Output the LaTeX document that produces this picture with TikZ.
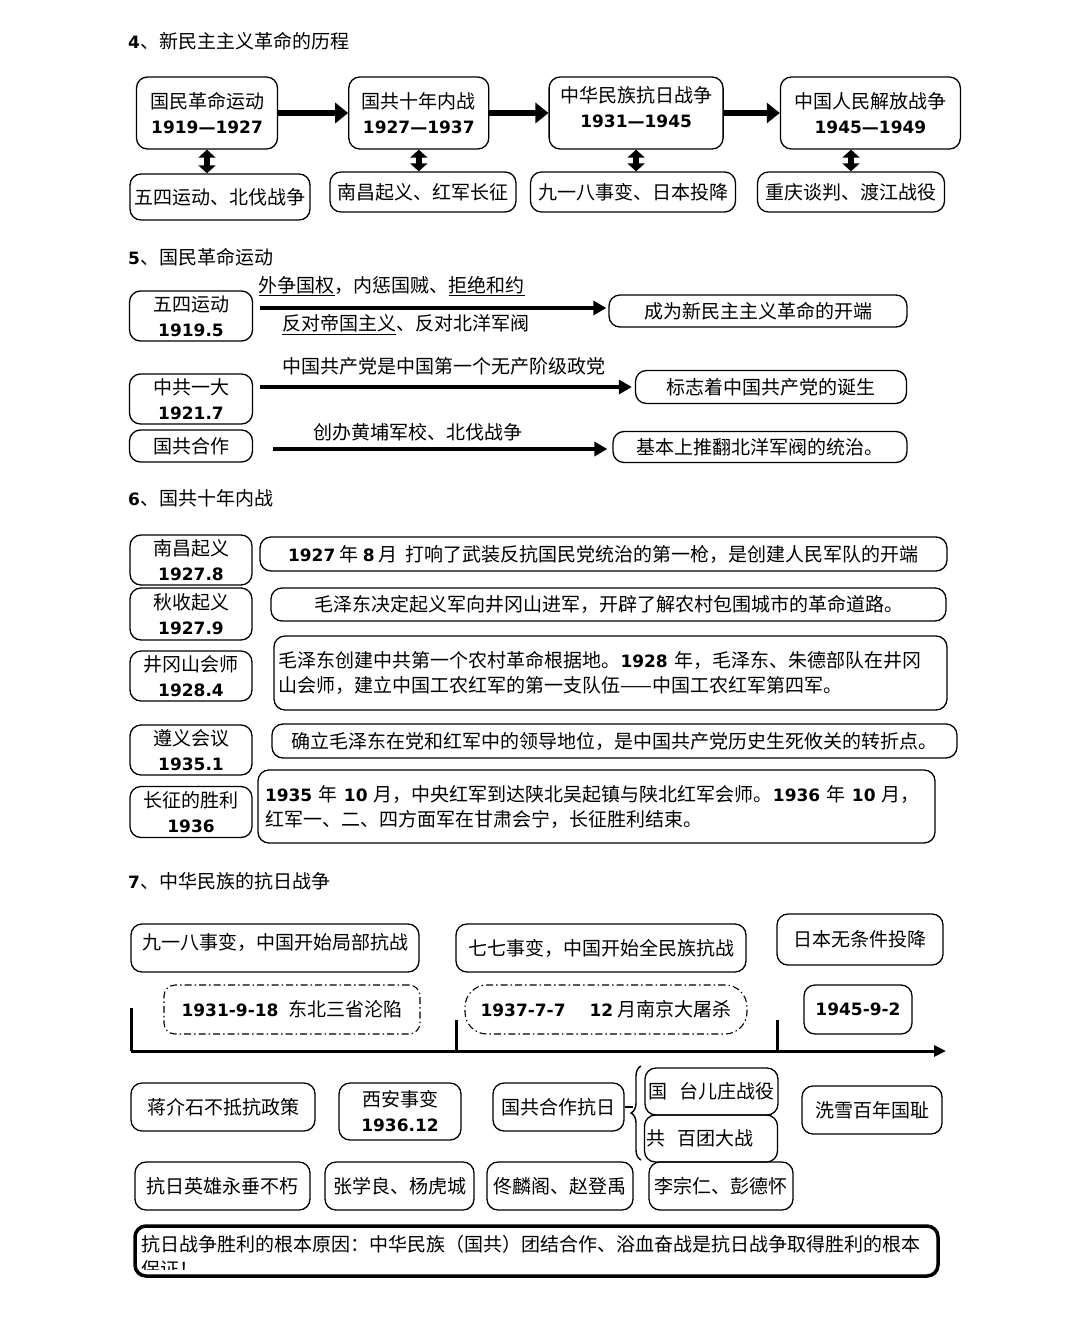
\documentclass[tikz,border=0pt]{standalone}
\usepackage{fontspec}
\setmainfont{Noto Sans CJK SC}
\newfontfamily\numfont{DejaVu Sans}
\usepackage{tikz}
\usetikzlibrary{arrows.meta,positioning,decorations.pathreplacing}
\newcommand{\cnsize}{\fontsize{19}{25}\selectfont}
\newcommand{\yr}[1]{{\numfont\bfseries\fontsize{17}{25}\selectfont #1}}

\begin{document}
\begin{tikzpicture}[x=1pt,y=-1pt,
  box/.style={draw, rounded corners=11pt, line width=1.3pt, align=center, inner sep=2pt, font=\cnsize},
  sz/.style 2 args={minimum width=#1pt, minimum height=#2pt},
  ddbox/.style={box, line width=1.1pt, dash pattern=on 7pt off 3pt on 1.5pt off 3pt},
  title/.style={anchor=west, inner sep=0pt, font=\cnsize},
  lbl/.style={inner sep=0pt, font=\cnsize},
  bigarr/.style={line width=5.5pt, -{Triangle[length=13pt,width=20pt]}},
  dblarr/.style={line width=6pt, {Triangle[length=8pt,width=17pt]}-{Triangle[length=8pt,width=17pt]}},
  arr/.style={line width=3.5pt, -{Triangle[length=13pt,width=14pt]}},
  axis/.style={line width=3pt}
]
\fill[white] (0,0) rectangle (1080,1330);
\useasboundingbox (0,0) rectangle (1080,1330);

% 4
\node[title] (t4) at (128,41) {\yr{4}、新民主主义革命的历程};
\node[box, sz={141}{72}] (natrev) at (207,113) {国民革命运动\\\yr{1919—1927}};
\node[box, sz={140}{72}, right=70pt of natrev] (civwar) {国共十年内战\\\yr{1927—1937}};
\node[box, sz={174}{72}, right=59pt of civwar] (antijp) {中华民族抗日战争\\\yr{1931—1945}\\[-13pt]};
\node[box, sz={180}{72}, right=56pt of antijp] (libwar) {中国人民解放战争\\\yr{1945—1949}};
\node[box, sz={180}{46}] (natev) at (220,197) {五四运动、北伐战争};
\node[box, sz={186}{40}] (civev) at (423,192) {南昌起义、红军长征};
\node[box, sz={205}{40}] (jpev) at (633,192) {九一八事变、日本投降};
\node[box, sz={187}{40}] (libev) at (851,192) {重庆谈判、渡江战役};

\draw[bigarr] (natrev) -- (civwar);
\draw[bigarr] (civwar) -- (antijp);
\draw[bigarr] (antijp) -- (libwar);
\draw[dblarr] (natrev.south) -- (natrev.south |- natev.north);
\draw[dblarr] (civwar.south) -- (civwar.south |- civev.north);
\draw[dblarr] (antijp.south) -- (antijp.south |- jpev.north);
\draw[dblarr] (libev.north) -- (libev.north |- libwar.south);

% 5
\node[title] (t5) at (128,257) {\yr{5}、国民革命运动};
\node[box, sz={123}{50}] (may4) at (191,316) {五四运动\\\yr{1919.5}};
\node[box, sz={298}{32}] (may4r) at (758,311) {成为新民主主义革命的开端};
\node[box, sz={123}{50}] (cpc) at (191,399) {中共一大\\\yr{1921.7}};
\node[box, sz={271}{33}] (cpcr) at (771,387) {标志着中国共产党的诞生};
\node[box, sz={123}{32}] (coop) at (191,446) {国共合作};
\node[box, sz={294}{31}] (coopr) at (760,447) {基本上推翻北洋军阀的统治。};

\draw[arr, shorten <=7pt, shorten >=2pt] ([yshift=8pt]may4.east) -- ([yshift=8pt]may4.east -| may4r.west)
  node[lbl, pos=0.39, above=10pt] {\underline{外争国权}，内惩国贼、\underline{拒绝和约}}
  node[lbl, pos=0.43, below=5pt] {\underline{反对帝国主义}、反对北洋军阀};
\draw[arr, shorten <=7pt, shorten >=3pt] ([yshift=12pt]cpc.east) -- ([yshift=12pt]cpc.east -| cpcr.west)
  node[lbl, midway, above=10pt] {中国共产党是中国第一个无产阶级政党};
\draw[arr, shorten <=20pt, shorten >=5pt] ([yshift=-3pt]coop.east) -- ([yshift=-3pt]coop.east -| coopr.west)
  node[lbl, pos=0.46, above=6pt] {创办黄埔军校、北伐战争};

% 6
\node[title] (t6) at (128,498) {\yr{6}、国共十年内战};
\node[box, sz={122}{50}] (nc) at (191,560) {南昌起义\\\yr{1927.8}};
\node[box, sz={122}{52}] (qs) at (191,614) {秋收起义\\\yr{1927.9}};
\node[box, sz={122}{50}] (jgs) at (191,676) {井冈山会师\\\yr{1928.4}};
\node[box, sz={122}{50}] (zy) at (191,750) {遵义会议\\\yr{1935.1}};
\node[box, sz={122}{51}] (cz) at (191,812) {长征的胜利\\\yr{1936}};
\node[box, sz={687}{34}] (ncr) at (603.5,554) {\yr{1927} 年 \yr{8} 月\hspace{8pt}打响了武装反抗国民党统治的第一枪，是创建人民军队的开端};
\node[box, sz={675}{33}] (qsr) at (608.5,604.5) {毛泽东决定起义军向井冈山进军，开辟了解农村包围城市的革命道路。};
\node[box, sz={673}{74}, align=left, text width=664pt] (jgsr) at (610.5,673) {毛泽东创建中共第一个农村革命根据地。\yr{1928} 年，毛泽东、朱德部队在井冈\\山会师，建立中国工农红军的第一支队伍——中国工农红军第四军。};
\node[box, sz={685}{34}] (zyr) at (614.5,741) {确立毛泽东在党和红军中的领导地位，是中国共产党历史生死攸关的转折点。};
\node[box, sz={677}{73}, align=left, text width=663pt] (czr) at (596.5,806.5) {\yr{1935} 年 \yr{10} 月，中央红军到达陕北吴起镇与陕北红军会师。\yr{1936} 年 \yr{10} 月，\\红军一、二、四方面军在甘肃会宁，长征胜利结束。};

% 7
\node[title] (t7) at (128,881) {\yr{7}、中华民族的抗日战争};
\node[box, sz={288}{48}] (s918) at (275,948) {九一八事变，中国开始局部抗战\\[-11pt]};
\node[box, sz={290}{48}] (s77) at (601,948) {七七事变，中国开始全民族抗战};
\node[box, sz={166}{51}] (sjp) at (860,939.5) {日本无条件投降};
\node[ddbox, sz={256}{49}] (d918) at (292,1009.5) {\yr{1931-9-18}\hspace{10pt}东北三省沦陷};
\node[ddbox, sz={282}{49}, rounded corners=22pt] (d77) at (606,1009.5) {\yr{1937-7-7}\hspace{24pt}\yr{12} 月南京大屠杀};
\node[box, sz={108}{49}] (d92) at (858,1009.5) {\yr{1945-9-2}};

\coordinate (ax0) at (131,1051);
\coordinate (ax1) at (456,1051);
\coordinate (ax2) at (777,1051);
\coordinate (axend) at (946,1051);
\draw[axis, -{Triangle[length=12pt,width=11pt]}] (ax0) -- (axend);
\draw[axis] (ax0) -- ++(0,-43);
\draw[axis] (ax1) -- ++(0,-31);
\draw[axis] (ax2) -- ++(0,-31);

\node[box, sz={184}{48}] (jjs) at (223,1107) {蒋介石不抵抗政策};
\node[box, sz={122}{57}] (xa) at (400,1111.5) {西安事变\\\yr{1936.12}};
\node[box, sz={131}{48}] (gchz) at (558.5,1107) {国共合作抗日};
\node[box, sz={133}{47}, align=left] (tez) at (711.5,1091.5) {国\hspace{12pt}台儿庄战役};
\node[box, sz={132}{47}, align=left] (bt) at (711,1138.5) {共\hspace{12pt}百团大战\hspace{22pt}};
\node[box, sz={140}{48}] (xx) at (872,1110) {洗雪百年国耻};
\coordinate (brlo) at (641,1160);
\coordinate (brhi) at (641,1066);
\draw[line width=1.4pt, decorate, decoration={brace, amplitude=10pt}] (brlo) -- (brhi);
\draw[line width=1.4pt] (gchz.east) -- ++(8,0);

\node[box, sz={175}{48}] (hero) at (222.5,1186) {抗日英雄永垂不朽};
\node[box, sz={149}{48}] (zy2) at (399.5,1186) {张学良、杨虎城};
\node[box, sz={146}{48}] (tl) at (560,1186) {佟麟阁、赵登禹};
\node[box, sz={144}{48}] (lz) at (721,1186) {李宗仁、彭德怀};

\node[box, line width=3.5pt, sz={803}{50}] (sumbox) at (536.5,1251) {};
\begin{scope}
\clip (135,1226) rectangle (938,1269);
\node[lbl, anchor=north west, align=left] (reason) at (141,1235) {抗日战争胜利的根本原因：中华民族（国共）团结合作、浴血奋战是抗日战争取得胜利的根本\\保证！};
\end{scope}
\end{tikzpicture}
\end{document}
